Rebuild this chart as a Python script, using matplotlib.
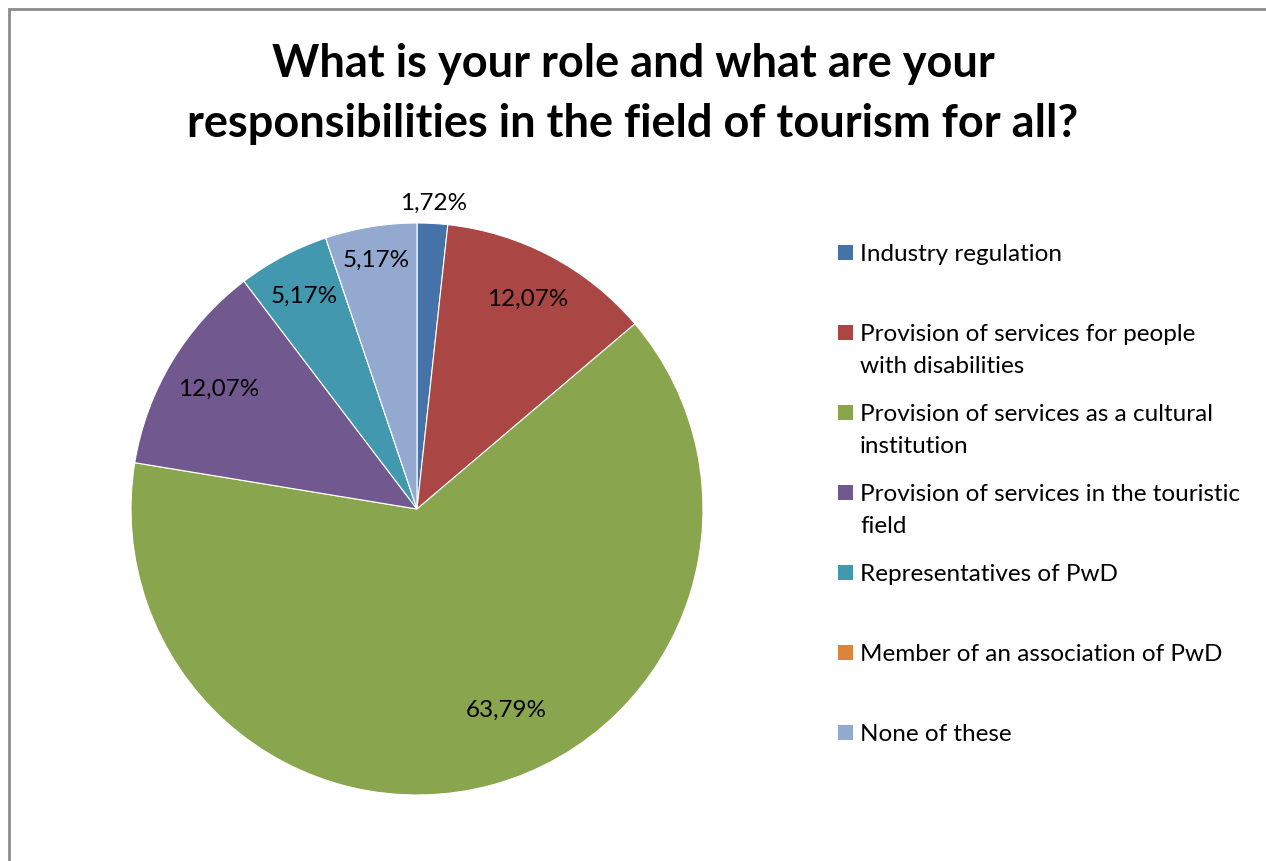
import numpy as np
import matplotlib.pyplot as plt
from matplotlib.patches import Rectangle

plt.rcParams['font.family'] = ['Lato', 'DejaVu Sans']

#-- Data
categories = ['Industry regulation',
              'Provision of services for people\nwith disabilities',
              'Provision of services as a cultural\ninstitution',
              'Provision of services in the touristic\nfield',
              'Representatives of PwD',
              'Member of an association of PwD',
              'None of these']
shares = [1.72, 12.07, 63.79, 12.07, 5.17, 0.0, 5.17]
colors = ['#4572A7', '#AA4643', '#89A54E', '#71588F', '#4198AF', '#DB843D', '#93A9CF']

# label placement: radius fraction and angle nudge (degrees) per slice
lab_r = [1.07, 0.83, 0.77, 0.81, 0.84, None, 0.88]
lab_da = [0, 0, 8.5, 0, 0, 0, 0]

W, H = 1266, 861
fig = plt.figure(figsize=(W/100, H/100), dpi=100)

# frame around the chart area
fig.patches.append(Rectangle((9/W, -0.1), 1.2, (H-9)/H + 0.1, transform=fig.transFigure,
                             fill=False, edgecolor='#8c8c8c', linewidth=2))

cx, cy, r = 417, 509, 286
ax = fig.add_axes([(cx-r)/W, (H-cy-r)/H, 2*r/W, 2*r/H])
wedges, _ = ax.pie(shares, colors=colors, startangle=90, counterclock=False,
                   wedgeprops=dict(edgecolor='white', linewidth=0.8))
ax.set_xlim(-1, 1)
ax.set_ylim(-1, 1)
ax.set_aspect('equal')

# percentage labels
cum = 0
for v, rf, da in zip(shares, lab_r, lab_da):
    mid = 90 - (cum + v/2) * 3.6 + da
    cum += v
    if rf is None:
        continue
    t = np.deg2rad(mid)
    ax.text(rf*np.cos(t), rf*np.sin(t), f'{v:.2f}%'.replace('.', ','),
            ha='center', va='center', fontsize=17.5, clip_on=False)

fig.text(0.5, 1 - 64/H, 'What is your role and what are your',
         ha='center', va='center', fontsize=32.5, fontweight='bold')
fig.text(0.5, 1 - 124/H, 'responsibilities in the field of tourism for all?',
         ha='center', va='center', fontsize=32.5, fontweight='bold')

# legend, one entry every 80 px
for i, (lab, w) in enumerate(zip(categories, wedges)):
    y = 252 + 80*i
    fig.patches.append(Rectangle((838/W, 1 - (y+7.5)/H), 15/W, 15/H, transform=fig.transFigure,
                                 facecolor=w.get_facecolor(), edgecolor='none'))
    fig.text(860/W, 1 - (y-8)/H, lab, ha='left', va='top', fontsize=17.5,
             linespacing=1.65)

fig.savefig('out.png', dpi=100)
